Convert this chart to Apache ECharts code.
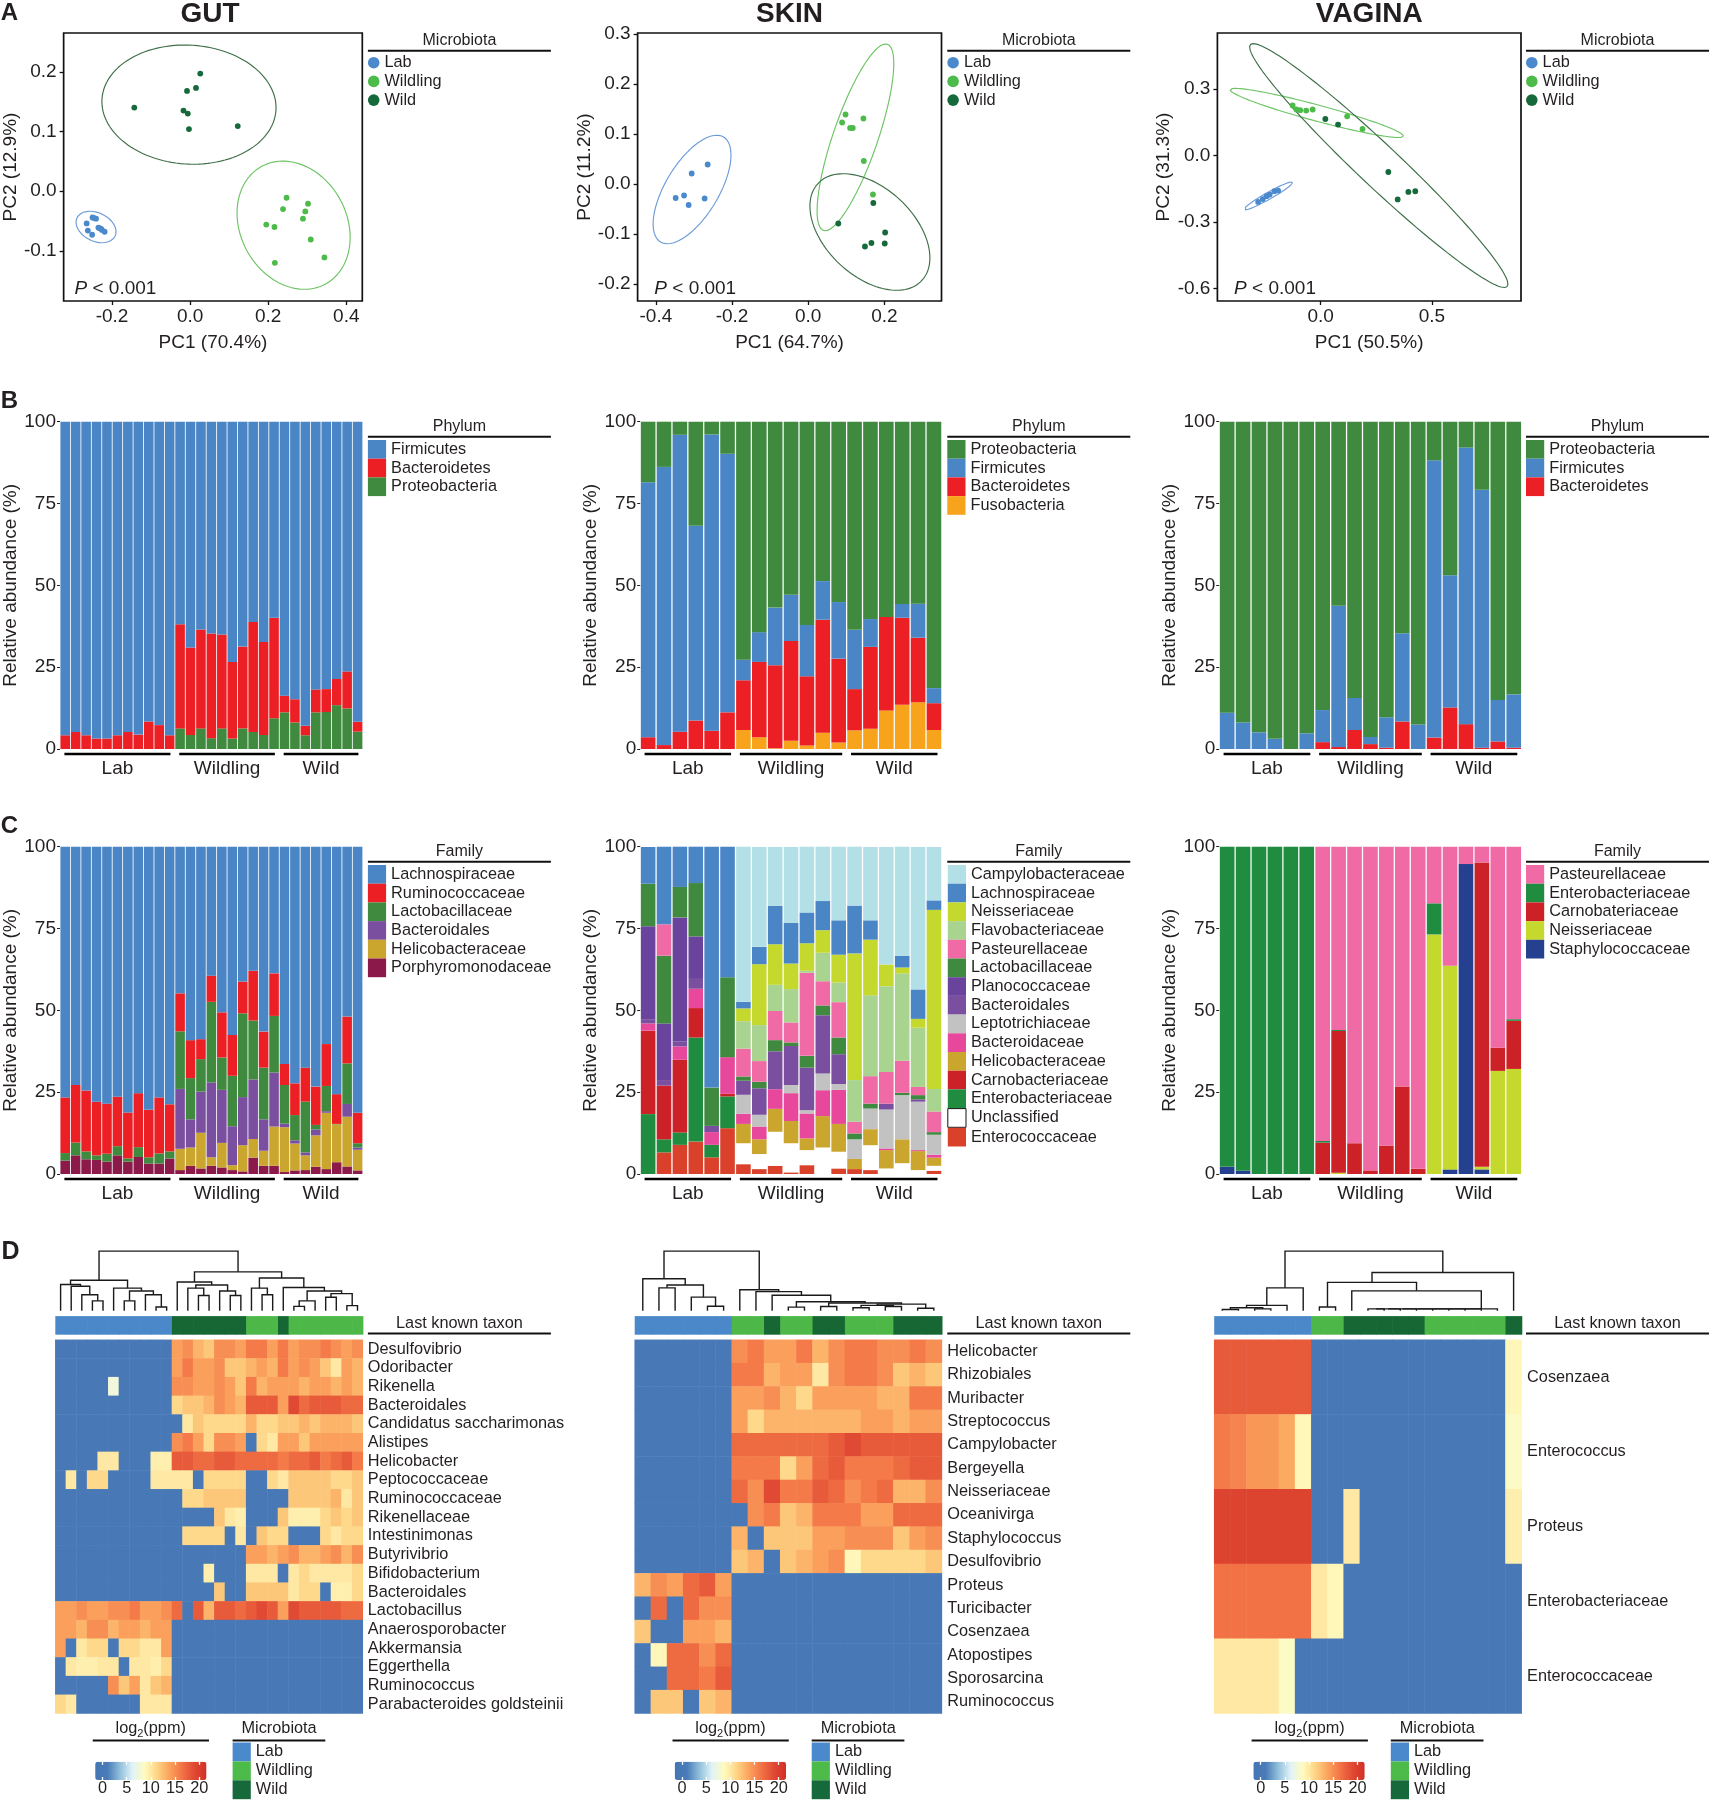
<!DOCTYPE html>
<html><head><meta charset="utf-8">
<script src="https://cdn.jsdelivr.net/npm/echarts@6.0.0/dist/echarts.min.js"></script>
<style>html,body{margin:0;padding:0;background:#fff;}#chart{width:1710px;height:1800px;}</style>
</head><body><div id="chart"></div>
<script>
const FONT = '"Liberation Sans", Arial, Helvetica, sans-serif';
const INK = '#231f20';

// ---------- shared groups ----------
const microbiota = ['Lab', 'Wildling', 'Wild'];
const microColors = ['#4a89cc', '#4dbb4a', '#16693a'];
const ellipseColors = ['#6c9bd8', '#6dc464', '#3e6f48'];
const annotColors = ['#4a88c9', '#4db848', '#166734'];

// ---------- A: PCA ----------
const gutLabPC = [[-0.265,-0.054],[-0.250,-0.044],[-0.241,-0.046],[-0.246,-0.045],[-0.262,-0.066],[-0.251,-0.073],[-0.232,-0.062],[-0.226,-0.065],[-0.219,-0.068],[-0.228,-0.063],[-0.235,-0.061]];
const gutWildlingPC = [[0.247,-0.011],[0.302,-0.021],[0.238,-0.030],[0.295,-0.034],[0.289,-0.046],[0.195,-0.056],[0.216,-0.060],[0.309,-0.081],[0.344,-0.111],[0.217,-0.120]];
const gutWildPC = [[-0.143,0.140],[-0.008,0.168],[0.015,0.173],[0.026,0.197],[-0.017,0.135],[-0.006,0.130],[-0.003,0.104],[0.122,0.109]];
// ellipse: [cx, cy, ux, uy, vx, vy] (Lab, Wildling, Wild)
const gutEllipses = [[-0.241,-0.060,0.0475,-0.0168,-0.0192,-0.0203],[0.265,-0.057,0.144,-0.009,-0.0155,0.107],[-0.003,0.145,0.2228,-0.0095,0.010,0.0994]];
const gutPCxTicks = [-0.2, 0, 0.2, 0.4];
const gutPCyTicks = [-0.1, 0, 0.1, 0.2];

const skinLabPC = [[-0.348,-0.028],[-0.326,-0.023],[-0.314,-0.042],[-0.306,0.021],[-0.272,-0.029],[-0.264,0.039]];
const skinWildlingPC = [[0.098,0.139],[0.089,0.123],[0.110,0.112],[0.117,0.112],[0.145,0.131],[0.146,0.046],[0.170,-0.021]];
const skinWildPC = [[0.171,-0.038],[0.079,-0.079],[0.202,-0.097],[0.166,-0.118],[0.149,-0.125],[0.201,-0.119]];
const skinEllipses = [[-0.305,-0.011,0.0805,0.106,0.063,-0.0235],[0.124,0.0933,0.0834,0.1864,0.0564,-0.0123],[0.162,-0.096,0.154,-0.0287,-0.033,0.113]];
const skinPCxTicks = [-0.4, -0.2, 0, 0.2];
const skinPCyTicks = [-0.2, -0.1, 0, 0.1, 0.2, 0.3];

const vagLabPC = [[-0.281,-0.209],[-0.260,-0.196],[-0.243,-0.183],[-0.229,-0.176],[-0.208,-0.161],[-0.191,-0.158]];
const vagWildlingPC = [[-0.126,0.226],[-0.109,0.208],[-0.092,0.205],[-0.065,0.203],[-0.036,0.208],[0.119,0.177],[0.188,0.120]];
const vagWildPC = [[0.021,0.165],[0.078,0.140],[0.304,-0.074],[0.346,-0.198],[0.394,-0.164],[0.425,-0.161]];
const vagEllipses = [[-0.235,-0.182,0.1087,0.0617,0.0087,-0.0128],[-0.018,0.1925,0.3897,-0.1053,-0.011,-0.0346],[0.261,-0.045,0.576,-0.5466,-0.0704,-0.0629]];
const vagPCxTicks = [0, 0.5];
const vagPCyTicks = [-0.6, -0.3, 0, 0.3];

// ---------- B: phylum (%) ----------
const gutProteobacteria = [0,0,0,0,0,0,0,0,0,0,0, 6.3,4.3,6.3,3.3,6.3,3.2,6.3,5.2,4.3,9.4, 11.2,8.1,4.2,11.2,11.3,13.4,12.4,5.3];
const gutBacteroidetes = [4.2,5.2,4.2,3.2,3.2,4.2,5.2,4.4,8.4,7.3,4.2, 31.8,26.7,30.2,32.0,28.7,23.4,25.0,33.6,28.4,30.7, 5.1,7.1,2.9,7.0,7.0,8.0,11.3,3.0];
const gutFirmicutes = [95.8,94.8,95.8,96.8,96.8,95.8,94.8,95.6,91.6,92.7,95.8, 61.9,69.0,63.5,64.7,65.0,73.4,68.7,61.2,67.3,59.9, 83.7,84.8,92.9,81.8,81.7,78.6,76.3,91.7];

const skinFusobacteria = [0,0,0,0,0,0, 5.8,3.6,0.2,2.5,1.1,5.0,2.0, 5.7,6.2,11.8,13.5,14.3,5.8];
const skinBacteroidetes = [3.6,1.2,5.3,8.7,5.6,11.2, 15.2,23.0,25.4,30.5,21.1,34.5,25.6, 12.6,25.0,28.5,26.6,19.7,8.2];
const skinFirmicutes = [77.9,85.0,90.7,59.5,90.5,79.0, 6.3,9.1,17.6,14.1,15.7,11.8,17.3, 18.1,8.5,0,4.2,10.4,4.6];
const skinProteobacteria = [18.5,13.8,4.0,31.8,3.9,9.8, 72.7,64.3,56.8,52.9,62.1,48.7,55.1, 63.6,60.3,59.7,55.7,55.6,81.4];

const vagBacteroidetes = [0,0,0,0,0,0, 2.1,0.6,5.8,1.5,0.4,8.4,0, 3.5,12.7,7.6,0.4,2.3,0.4];
const vagFirmicutes = [11.1,8.1,5.1,3.1,0,4.8, 9.8,43.2,9.8,2.2,9.3,27.0,7.5, 84.7,40.4,84.5,78.8,12.7,16.3];
const vagProteobacteria = [88.9,91.9,94.9,96.9,100,95.2, 88.1,56.2,84.4,96.3,90.3,64.6,92.5, 11.8,46.9,7.9,20.8,85.0,83.3];

// ---------- C: family (%) ----------
const gutPorphyromonodaceae = [4.1,5.7,4.5,4.3,3.8,5.7,3.8,5.2,3.2,3.2,4.7, 1.2,2.5,1.7,2.5,2.0,1.2,0.8,5.0,2.5,2.5, 0.6,1.1,1.2,2.2,1.5,3.6,2.3,1.1];
const gutHelicobacteraceae = [0,0,0,0,0,0,0,0,0,0,0, 6.5,5.6,10.9,2.6,7.5,1.5,8.0,5.7,4.6,12.0, 13.7,8.2,4.5,9.6,17.2,11.6,15.2,6.3];
const gutBacteroidales = [0,0,0,0,0,0,0,0,0,0,0, 18.3,8.6,12.6,22.9,16.2,11.9,14.7,18.2,9.6,16.5, 1.1,1.0,0.9,1.8,0.5,0,3.9,0.7];
const gutLactobacillaceae = [2.3,3.9,2.4,1.4,2.4,2.8,1.0,3.0,1.9,3.1,2.2, 17.6,12.6,9.9,24.6,9.9,15.4,25.6,18.0,15.8,17.3, 11.8,7.7,15.5,1.4,7.7,0.1,12.4,1.3];
const gutRuminococcaceae = [17.0,17.6,18.6,16.4,15.3,15.1,14.0,16.5,14.5,17.1,14.4, 11.6,11.6,6.1,8.0,13.8,12.5,9.7,15.2,11.0,13.0, 6.4,9.7,10.4,11.7,12.8,9.1,14.3,9.3];
const gutLachnospiraceae = [76.6,72.8,74.5,77.9,78.5,76.4,81.2,75.3,80.4,76.6,78.7, 44.8,59.1,58.8,39.4,50.6,57.5,41.2,37.9,56.5,38.7, 66.4,72.3,67.5,73.3,60.3,75.6,51.9,81.3];

const skinEnterococcaceae = [0,6.6,8.9,9.9,5.1,14.0, 3.0,1.5,2.5,0.5,2.7,0,1.7, 1.5,1.2,0,0,0,1.0];
const skinUnclassified = [0,0,0,0,0,0, 6.4,4.6,10.4,8.9,4.6,8.1,5.1, 0,7.6,1.7,3.3,1.2,1.5];
const skinEnterobacteriaceae = [18.3,4.0,3.8,31.8,3.8,9.7, 0,0,0,0,0,0,0, 0,0,0,0,0,0];
const skinCarnobacteriaceae = [25.5,16.4,22.2,9.0,0,0.8, 0,0,0,0,0,0,0, 0,0,0,0,0,0];
const skinHelicobacteraceae = [0,0,0,0,0,0, 5.9,4.5,7.0,6.8,3.6,9.6,8.5, 3.1,4.9,5.6,7.3,5.8,2.5];
const skinBacteroidaceae = [2.2,0,4.1,5.9,3.9,11.2, 3.1,3.9,6.0,8.5,7.6,7.9,10.4, 0,0,0.5,0,0.3,0.9];
const skinLeptotrichiaceae = [0,0,0,0,0,0, 5.8,3.6,0,2.5,1.0,5.1,1.8, 6.0,6.3,11.9,13.5,14.8,6.1];
const skinBacteroidales = [1.3,1.7,1.5,3.0,1.9,0, 4.3,8.1,11.6,11.9,13.0,17.8,9.1, 0,0,1.8,0,0.7,0];
const skinPlanococcaceae = [28.4,17.3,37.9,13.0,0,0, 0,0,0,0,0,0,0, 0,0,0,0,0,0];
const skinLactobacillaceae = [13.0,20.7,9.3,16.3,11.7,24.4, 1.3,2.0,3.4,1.1,3.6,3.0,5.1, 1.8,1.5,0,0.7,1.3,0.8];
const skinPasteurellaceae = [0,9.6,0,0,0,0, 8.5,6.3,8.9,6.1,25.4,7.4,10.8, 3.6,8.4,9.7,9.8,2.5,6.3];
const skinFlavobacteriaceae = [0,0,0,0,0,0, 8.4,11.0,8.0,10.2,0.6,8.7,6.0, 12.7,24.7,26.2,26.7,18.1,6.9];
const skinNeisseriaceae = [0,0,0,0,0,0, 3.9,18.6,12.4,7.8,8.4,6.9,8.5, 38.7,17.0,6.6,1.8,2.7,54.7];
const skinLachnospiraceae = [11.2,23.7,12.4,11.2,73.6,39.9, 2.0,5.3,11.7,12.4,9.4,8.9,10.5, 14.6,5.9,0,3.6,9.0,2.9];
const skinCampylobacteraceae = [0,0,0,0,0,0, 47.6,30.5,18.0,23.2,20.2,16.6,22.6, 18.0,22.4,35.9,33.3,43.5,16.3];

const vagStaphylococcaceae = [2.2,1.0,0,0,0,0, 0,0,0,0,0,0,0, 0,1.4,94.7,1.4,0,0];
const vagNeisseriaceae = [0,0,0,0,0,0, 0,0.4,0,0,0,0,0, 73.2,62.2,0,0.8,31.5,32.1];
const vagCarnobateriaceae = [0,0,0,0,0,0, 9.6,43.3,9.4,1.1,8.7,26.7,1.6, 0,0,0,93.0,7.1,14.7];
const vagEnterobacteriaceae = [97.8,99.0,100,100,100,100, 0.5,0.3,0,0,0,0,0, 9.5,0,0,0,0,0.5];
const vagPasteurellaceae = [0,0,0,0,0,0, 89.9,56.0,90.6,98.9,91.3,73.3,98.4, 17.3,36.4,5.3,4.8,61.4,52.7];

// group spans (first, last sample index) in B and C
const gutGroupSpans = [[0,10],[11,20],[21,28]];
const skinGroupSpans = [[0,5],[6,12],[13,18]];
const vagGroupSpans = [[0,5],[6,12],[13,18]];
const abundanceTicks = [0, 25, 50, 75, 100];

// ---------- D: heatmaps log2(ppm) ----------
const colorbarTicks = [0, 5, 10, 15, 20];
const HEAT_COLORS = ['#4575b4','#4a7cb8','#91bfdb','#e0f3f8','#fffbc0','#fed585','#fba35d','#f37446','#e04a33','#d32f27'];

const gutTaxa = ['Desulfovibrio','Odoribacter','Rikenella','Bacteroidales','Candidatus saccharimonas','Alistipes','Helicobacter','Peptococcaceae','Ruminococcaceae','Rikenellaceae','Intestinimonas','Butyrivibrio','Bifidobacterium','Bacteroidales','Lactobacillus','Anaerosporobacter','Akkermansia','Eggerthella','Ruminococcus','Parabacteroides goldsteinii'];
const gutAnnot = ['Lab','Lab','Lab','Lab','Lab','Lab','Lab','Lab','Lab','Lab','Lab','Wild','Wild','Wild','Wild','Wild','Wild','Wild','Wildling','Wildling','Wildling','Wild','Wildling','Wildling','Wildling','Wildling','Wildling','Wildling','Wildling'];
const gutHeat = [
 [0,0,0,0,0,0,0,0,0,0,0,14,15,13,12,15,15,14,16,16,14,16,14,15,15,16,15,14,15],
 [0,0,0,0,0,0,0,0,0,0,0,14,16,14,14,15,12,12,13,14,13,16,14,15,14,12,10,14,13],
 [0,0,0,0,0,7.5,0,0,0,0,0,15,15,14,14,15,14,12,16,13,14,14,14,13,14,14,13,14,13],
 [0,0,0,0,0,0,0,0,0,0,0,11,12,12,13,15,14,13,18,18,18,14,19,17,18,18,18,17,17],
 [0,0,0,0,0,0,0,0,0,0,0,0,10,12,11,11,11,11,13,11,11,12,12,13,12,13,13,13,12],
 [0,0,0,0,0,0,0,0,0,0,0,15,16,14,11,15,15,14,0,11,10,14,14,12,14,14,14,14,14],
 [0,0,0,0,10,10,0,0,0,9.5,9.5,18,18,17,17,18,18,17,17,17,17,16,17,17,18,16,17,18,16],
 [0,10,0,11,11,0,0,0,0,10,10,10,10,0,11,11,11,11,0,0,11,10,12,12,12,12,11,11,12],
 [0,0,0,0,0,0,0,0,0,0,0,0,11,11,12,12,12,12,0,0,0,0,12,12,12,12,13,10,12],
 [0,0,0,0,0,0,0,0,0,0,0,0,0,0,0,12,10,9.5,0,0,0,12,9.5,9.5,9.5,11,12,11,12],
 [0,0,0,0,0,0,0,0,0,0,0,0,11,11,11,11,0,10,0,12,11,11,0,0,0,11,10,11,11],
 [0,0,0,0,0,0,0,0,0,0,0,0,0,0,0,0,0,0,14,14,13,14,15,13,13,14,15,13,15],
 [0,0,0,0,0,0,0,0,0,0,0,0,0,0,9.5,0,0,0,10,10,10,0,10,11,10,10,10,10,11],
 [0,0,0,0,0,0,0,0,0,0,0,0,0,0,0,12,0,0,12,12,12,12,10,11,11,0,9.5,9.5,11],
 [14,14,15,14,14,15,15,16,14,14,15,17,0,18,13,18,18,17,18,19,18,14,19,18,18,18,18,17,17],
 [14,14,13,15,15,13,14,14,13,14,14,0,0,0,0,0,0,0,0,0,0,0,0,0,0,0,0,0,0],
 [14,0,10,11,11,0,11,11,10,10,14,0,0,0,0,0,0,0,0,0,0,0,0,0,0,0,0,0,0],
 [0,10,9.5,9.5,10,10,0,10,10,9.5,11,0,0,0,0,0,0,0,0,0,0,0,0,0,0,0,0,0,0],
 [0,0,0,0,0,15,12,14,10,12,13,0,0,0,0,0,0,0,0,0,0,0,0,0,0,0,0,0,0],
 [11,10,0,0,0,0,0,0,10,10,10,0,0,0,0,0,0,0,0,0,0,0,0,0,0,0,0,0,0]
];
// dendrogram merges: [nodeA, nodeB, height]; leaves 0..n-1, merge k creates node n+k
const gutMerges = [[3,4,0.165],[2,29,0.268],[1,30,0.409],[0,31,0.44],[9,10,0.061],[8,33,0.268],[6,7,0.165],[35,34,0.33],[5,36,0.378],[32,37,0.512],[13,14,0.256],[12,39,0.378],[16,17,0.256],[15,41,0.33],[40,42,0.43],[11,43,0.482],[19,20,0.268],[18,45,0.378],[22,23,0.073],[47,24,0.165],[25,26,0.226],[27,28,0.085],[49,50,0.287],[48,51,0.33],[21,52,0.39],[46,53,0.549],[44,54,0.652],[38,55,1.0]];

const skinTaxa = ['Helicobacter','Rhizobiales','Muribacter','Streptococcus','Campylobacter','Bergeyella','Neisseriaceae','Oceanivirga','Staphylococcus','Desulfovibrio','Proteus','Turicibacter','Cosenzaea','Atopostipes','Sporosarcina','Ruminococcus'];
const skinAnnot = ['Lab','Lab','Lab','Lab','Lab','Lab','Wildling','Wildling','Wild','Wildling','Wildling','Wild','Wild','Wildling','Wildling','Wildling','Wild','Wild','Wild'];
const skinHeat = [
 [0,0,0,0,0,0,15,16,14,14,16,13,15,16,16,15,15,16,15],
 [0,0,0,0,0,0,16,16,13,14,14,10,15,16,16,15,12,13,12],
 [0,0,0,0,0,0,14,14,15,13,11,14,14,14,14,13,13,16,16],
 [0,0,0,0,0,0,14,11,13,13,13,13,13,13,14,14,13,14,14],
 [0,0,0,0,0,0,17,17,17,17,17,17,18,19,18,18,18,18,18],
 [0,0,0,0,0,0,16,16,16,11,14,17,18,16,16,16,17,18,18],
 [0,0,0,0,0,0,17,15,19,16,16,18,17,15,16,17,13,13,15],
 [0,0,0,0,0,0,0,15,16,12,13,16,16,16,14,14,17,17,17],
 [0,0,0,0,0,0,13,0,12,12,12,14,14,15,15,15,12,14,15],
 [0,0,0,0,0,0,12,13,0,12,13,14,15,9,11,11,11,11,12],
 [13,15,14,17,18,14,0,0,0,0,0,0,0,0,0,0,0,0,0],
 [0,17,0,17,15,15,0,0,0,0,0,0,0,0,0,0,0,0,0],
 [12,0,0,14,14,13,0,0,0,0,0,0,0,0,0,0,0,0,0],
 [0,9,17,17,15,17,0,0,0,0,0,0,0,0,0,0,0,0,0],
 [0,0,17,17,16,18,0,0,0,0,0,0,0,0,0,0,0,0,0],
 [0,12,12,0,12,13,0,0,0,0,0,0,0,0,0,0,0,0,0]
];
const skinMerges = [[1,2,0.383],[4,5,0.074],[3,20,0.228],[19,21,0.432],[0,22,0.537],[9,10,0.06],[11,12,0.07],[13,14,0.05],[15,16,0.07],[17,18,0.04],[26,27,0.09],[29,28,0.11],[25,30,0.13],[24,31,0.15],[8,32,0.26],[7,33,0.32],[6,34,0.352],[23,35,1.0]];

const vagTaxa = ['Cosenzaea','Enterococcus','Proteus','Enterobacteriaceae','Enterococcaceae'];
const vagAnnot = ['Lab','Lab','Lab','Lab','Lab','Lab','Wildling','Wildling','Wild','Wild','Wild','Wild','Wild','Wildling','Wildling','Wildling','Wildling','Wildling','Wild'];
const vagHeat = [
 [18,18,18,18,18,18,0,0,0,0,0,0,0,0,0,0,0,0,9],
 [16,15.5,14.5,14.5,13.5,9,0,0,0,0,0,0,0,0,0,0,0,0,8.5],
 [19.5,19.5,19.5,19.5,19.5,19.5,0,0,10,0,0,0,0,0,0,0,0,0,9.5],
 [16.5,16.5,16.5,16.5,16.5,16.5,10,9,0,0,0,0,0,0,0,0,0,0,0],
 [10,10,10,10,8.5,0,0,0,0,0,0,0,0,0,0,0,0,0,0]
];
const vagMerges = [[0,1,0.02],[2,3,0.03],[19,20,0.05],[21,4,0.09],[22,5,0.383],[9,10,0.03],[24,11,0.03],[25,12,0.03],[26,13,0.03],[27,14,0.03],[28,15,0.03],[29,16,0.03],[30,17,0.03],[8,31,0.333],[6,7,0.062],[33,32,0.475],[34,18,0.642],[23,35,1.0]];

// ================= build =================
const option = {animation:false, textStyle:{fontFamily:FONT}, grid:[], xAxis:[], yAxis:[], series:[], legend:[], visualMap:[], graphic:{elements:[]}};
const G = option.graphic.elements;
function txt(x, y, text, size, extra) {
  G.push({type:'text', x:x, y:y, silent:true, style:Object.assign({text:text, fontSize:size, fontFamily:FONT, fill:INK, textAlign:'center', textVerticalAlign:'middle', align:'center', verticalAlign:'middle'}, extra||{})});
}
function hline(x1, x2, y, w) { G.push({type:'line', silent:true, shape:{x1:x1, y1:y, x2:x2, y2:y}, style:{stroke:'#111', lineWidth:w||2}}); }
function addGrid(rect, xa, ya) {
  const gi = option.grid.length;
  option.grid.push(Object.assign({containLabel:false, show:false}, rect));
  const xi = option.xAxis.length; option.xAxis.push(Object.assign({gridIndex:gi}, xa));
  const yi = option.yAxis.length; option.yAxis.push(Object.assign({gridIndex:gi}, ya));
  return {gi:gi, xi:xi, yi:yi};
}
function ellipsePoints(e) {
  const pts = [];
  for (let k = 0; k <= 120; k++) { const t = 2*Math.PI*k/120; pts.push([e[0]+e[2]*Math.cos(t)+e[4]*Math.sin(t), e[1]+e[3]*Math.cos(t)+e[5]*Math.sin(t)]); }
  return pts;
}
function dendroSegments(n, merges) {
  const x = [], h = [];
  for (let i = 0; i < n; i++) { x[i] = i; h[i] = 0; }
  return merges.map((m, k) => { const id = n + k; x[id] = (x[m[0]] + x[m[1]]) / 2; h[id] = m[2]; return [x[m[0]], h[m[0]], x[m[1]], h[m[1]], m[2]]; });
}
const tickLab = {fontSize:19, color:INK, fontFamily:FONT};

// ---- panel letters ----
txt(9.5, 13.3, 'A', 24, {fontWeight:'bold'});
txt(9.5, 401.7, 'B', 24, {fontWeight:'bold'});
txt(9.5, 826.7, 'C', 24, {fontWeight:'bold'});
txt(10.5, 1251.8, 'D', 25, {fontWeight:'bold'});

// ---- A ----
function pcaPanel(c) {
  const g = addGrid({left:c.left, top:33, width:c.width, height:268, show:true, borderColor:'#111', borderWidth:1.7, backgroundColor:'rgba(0,0,0,0)'},
    {type:'value', min:c.xRange[0], max:c.xRange[1], name:c.xName, nameLocation:'middle', nameGap:32.5, nameTextStyle:{fontSize:19, color:INK, fontFamily:FONT},
     axisLine:{show:false, onZero:false}, splitLine:{show:false}, axisTick:{show:true, length:4, customValues:c.xTicks, lineStyle:{color:'#111', width:1.3}},
     axisLabel:Object.assign({customValues:c.xTicks, formatter:v => v.toFixed(1), margin:6}, tickLab)},
    {type:'value', min:c.yRange[0], max:c.yRange[1], name:c.yName, nameLocation:'middle', nameGap:38, nameTextStyle:{fontSize:19, color:INK, fontFamily:FONT},
     axisLine:{show:false, onZero:false}, splitLine:{show:false}, axisTick:{show:true, length:4, customValues:c.yTicks, lineStyle:{color:'#111', width:1.3}},
     axisLabel:Object.assign({customValues:c.yTicks, formatter:v => v.toFixed(1), margin:7}, tickLab)});
  microbiota.forEach((grp, i) => {
    option.series.push({type:'line', name:grp + ' ellipse', xAxisIndex:g.xi, yAxisIndex:g.yi, data:ellipsePoints(c.ellipses[i]), symbol:'none', showSymbol:false, silent:true, z:2, lineStyle:{color:ellipseColors[i], width:1.15}});
  });
  microbiota.forEach((grp, i) => {
    option.series.push({type:'scatter', name:grp, xAxisIndex:g.xi, yAxisIndex:g.yi, data:c.points[i], symbolSize:5.8, silent:true, z:3, itemStyle:{color:microColors[i], opacity:1}});
  });
  txt(c.left + c.width/2, 14, c.title, 28, {fontWeight:'bold'});
  G.push({type:'text', x:c.left + 16.7, y:288.3, silent:true, style:{text:'{i|P} < 0.001', fontSize:19, fontFamily:FONT, fill:INK, textAlign:'left', align:'left', textVerticalAlign:'middle', verticalAlign:'middle', rich:{i:{fontStyle:'italic', fontSize:19, fontFamily:FONT, fill:INK}}}});
  txt(c.legLeft + 91.5, 40.7, 'Microbiota', 16);
  hline(c.legLeft, c.legLeft + 183, 50.7, 2);
  option.legend.push({orient:'vertical', left:c.legLeft, top:53.35, icon:'circle', itemWidth:11.6, itemHeight:11.6, itemGap:0, padding:0, selectedMode:false, data:microbiota,
    itemStyle:{opacity:1}, textStyle:{fontSize:16.3, color:INK, fontFamily:FONT, lineHeight:18.7}});
}
pcaPanel({left:57.8, width:304.5, title:'GUT', xRange:[-0.324,0.441], yRange:[-0.184,0.265], xTicks:gutPCxTicks, yTicks:gutPCyTicks, xName:'PC1 (70.4%)', yName:'PC2 (12.9%)', points:[gutLabPC, gutWildlingPC, gutWildPC], ellipses:gutEllipses, legLeft:367.9});
pcaPanel({left:637.6, width:303.9, title:'SKIN', xRange:[-0.448,0.35], yRange:[-0.234,0.302], xTicks:skinPCxTicks, yTicks:skinPCyTicks, xName:'PC1 (64.7%)', yName:'PC2 (11.2%)', points:[skinLabPC, skinWildlingPC, skinWildPC], ellipses:skinEllipses, legLeft:947.3});
pcaPanel({left:1217.4, width:303.6, title:'VAGINA', xRange:[-0.464,0.9], yRange:[-0.656,0.553], xTicks:vagPCxTicks, yTicks:vagPCyTicks, xName:'PC1 (50.5%)', yName:'PC2 (31.3%)', points:[vagLabPC, vagWildlingPC, vagWildPC], ellipses:vagEllipses, legLeft:1526});

// ---- B & C stacked bars ----
function barPanel(c) {
  const n = c.stack[0].data.length;
  const samples = Array.from({length:n}, (_, i) => 'S' + (i + 1));
  const g = addGrid({left:c.left, top:c.top, width:c.width, height:327.3},
    {type:'category', data:samples, axisLine:{show:false}, axisTick:{show:false}, axisLabel:{show:false}, splitLine:{show:false}},
    {type:'value', min:0, max:100, interval:25, name:'Relative abundance (%)', nameLocation:'middle', nameGap:40, nameTextStyle:{fontSize:19, color:INK, fontFamily:FONT},
     axisLine:{show:false}, splitLine:{show:false}, axisTick:{show:true, length:3, lineStyle:{color:'#222', width:1}},
     axisLabel:Object.assign({margin:4, customValues:abundanceTicks}, tickLab)});
  c.stack.forEach(s => option.series.push({type:'bar', name:s.name, stack:c.id, xAxisIndex:g.xi, yAxisIndex:g.yi, data:s.data, barCategoryGap:'8%', silent:true, itemStyle:{color:s.color}}));
  option.series.push({type:'custom', xAxisIndex:g.xi, yAxisIndex:g.yi, silent:true, clip:false, data:c.spans, z:5,
    renderItem:(p, api) => {
      const a = api.coord([api.value(0), 0]), b = api.coord([api.value(1), 0]), bw = api.size([1, 0])[0];
      const x1 = a[0] - bw/2 + 4.4, x2 = b[0] + bw/2 - 4.4, y = a[1] + 5;
      return {type:'group', children:[
        {type:'line', shape:{x1:x1, y1:y, x2:x2, y2:y}, style:{stroke:'#000', lineWidth:2.4}},
        {type:'text', style:{text:microbiota[p.dataIndex], x:(x1+x2)/2, y:y + 14.5, align:'center', verticalAlign:'middle', fontSize:19, fontFamily:FONT, fill:INK}}]};
    }});
  txt(c.legLeft + 91.5, c.top + 5, c.legTitle, 16);
  hline(c.legLeft, c.legLeft + 183, c.top + 15, 2);
  option.legend.push({orient:'vertical', left:c.legLeft, top:c.top + 18.3, icon:'rect', itemWidth:18.2, itemHeight:18.7, itemGap:0, padding:0, selectedMode:false,
    data:c.legend, itemStyle:{borderWidth:0}, textStyle:{fontSize:16.3, color:INK, fontFamily:FONT, lineHeight:18.7}});
}
const PHY = {Firmicutes:'#4a86c6', Bacteroidetes:'#ec2024', Proteobacteria:'#3f8a3f', Fusobacteria:'#f8a31c'};
const barX = {gut:[60.0, 302.8], skin:[640.2, 301.7], vag:[1219.2, 302.5]};
const legX = {gut:367.9, skin:947.3, vag:1526};
barPanel({id:'gutB', left:barX.gut[0], width:barX.gut[1], top:421.7, spans:gutGroupSpans, legLeft:legX.gut, legTitle:'Phylum',
  stack:[{name:'Proteobacteria', data:gutProteobacteria, color:PHY.Proteobacteria},{name:'Bacteroidetes', data:gutBacteroidetes, color:PHY.Bacteroidetes},{name:'Firmicutes', data:gutFirmicutes, color:PHY.Firmicutes}],
  legend:['Firmicutes','Bacteroidetes','Proteobacteria']});
barPanel({id:'skinB', left:barX.skin[0], width:barX.skin[1], top:421.7, spans:skinGroupSpans, legLeft:legX.skin, legTitle:'Phylum',
  stack:[{name:'Fusobacteria', data:skinFusobacteria, color:PHY.Fusobacteria},{name:'Bacteroidetes', data:skinBacteroidetes, color:PHY.Bacteroidetes},{name:'Firmicutes', data:skinFirmicutes, color:PHY.Firmicutes},{name:'Proteobacteria', data:skinProteobacteria, color:PHY.Proteobacteria}],
  legend:['Proteobacteria','Firmicutes','Bacteroidetes','Fusobacteria']});
barPanel({id:'vagB', left:barX.vag[0], width:barX.vag[1], top:421.7, spans:vagGroupSpans, legLeft:legX.vag, legTitle:'Phylum',
  stack:[{name:'Bacteroidetes', data:vagBacteroidetes, color:PHY.Bacteroidetes},{name:'Firmicutes', data:vagFirmicutes, color:PHY.Firmicutes},{name:'Proteobacteria', data:vagProteobacteria, color:PHY.Proteobacteria}],
  legend:['Proteobacteria','Firmicutes','Bacteroidetes']});

const FAM = {Lachnospiraceae:'#4a86c6', Ruminococcaceae:'#ec2024', Lactobacillaceae:'#3f8a3f', Bacteroidales:'#7b4f9f', Helicobacteraceae:'#cba62e', Porphyromonodaceae:'#8b1a4a',
  Campylobacteraceae:'#b3e0e6', Neisseriaceae:'#c5d82e', Flavobacteriaceae:'#a9d48f', Pasteurellaceae:'#f06ba6', Planococcaceae:'#6a449c', Leptotrichiaceae:'#c2c2c2',
  Bacteroidaceae:'#e8489b', Carnobacteriaceae:'#cd2128', Enterobacteriaceae:'#1f8c40', Unclassified:'#ffffff', Enterococcaceae:'#d9412b', Staphylococcaceae:'#24408e'};
barPanel({id:'gutC', left:barX.gut[0], width:barX.gut[1], top:846.7, spans:gutGroupSpans, legLeft:legX.gut, legTitle:'Family',
  stack:[{name:'Porphyromonodaceae', data:gutPorphyromonodaceae, color:FAM.Porphyromonodaceae},{name:'Helicobacteraceae', data:gutHelicobacteraceae, color:FAM.Helicobacteraceae},{name:'Bacteroidales', data:gutBacteroidales, color:FAM.Bacteroidales},{name:'Lactobacillaceae', data:gutLactobacillaceae, color:FAM.Lactobacillaceae},{name:'Ruminococcaceae', data:gutRuminococcaceae, color:FAM.Ruminococcaceae},{name:'Lachnospiraceae', data:gutLachnospiraceae, color:FAM.Lachnospiraceae}],
  legend:['Lachnospiraceae','Ruminococcaceae','Lactobacillaceae','Bacteroidales','Helicobacteraceae','Porphyromonodaceae']});
barPanel({id:'skinC', left:barX.skin[0], width:barX.skin[1], top:846.7, spans:skinGroupSpans, legLeft:legX.skin, legTitle:'Family',
  stack:[{name:'Enterococcaceae', data:skinEnterococcaceae, color:FAM.Enterococcaceae},{name:'Unclassified', data:skinUnclassified, color:FAM.Unclassified},{name:'Enterobacteriaceae', data:skinEnterobacteriaceae, color:FAM.Enterobacteriaceae},{name:'Carnobacteriaceae', data:skinCarnobacteriaceae, color:FAM.Carnobacteriaceae},{name:'Helicobacteraceae', data:skinHelicobacteraceae, color:FAM.Helicobacteraceae},{name:'Bacteroidaceae', data:skinBacteroidaceae, color:FAM.Bacteroidaceae},{name:'Leptotrichiaceae', data:skinLeptotrichiaceae, color:FAM.Leptotrichiaceae},{name:'Bacteroidales', data:skinBacteroidales, color:FAM.Bacteroidales},{name:'Planococcaceae', data:skinPlanococcaceae, color:FAM.Planococcaceae},{name:'Lactobacillaceae', data:skinLactobacillaceae, color:FAM.Lactobacillaceae},{name:'Pasteurellaceae', data:skinPasteurellaceae, color:FAM.Pasteurellaceae},{name:'Flavobacteriaceae', data:skinFlavobacteriaceae, color:FAM.Flavobacteriaceae},{name:'Neisseriaceae', data:skinNeisseriaceae, color:FAM.Neisseriaceae},{name:'Lachnospiraceae', data:skinLachnospiraceae, color:FAM.Lachnospiraceae},{name:'Campylobacteraceae', data:skinCampylobacteraceae, color:FAM.Campylobacteraceae}],
  legend:['Campylobacteraceae','Lachnospiraceae','Neisseriaceae','Flavobacteriaceae','Pasteurellaceae','Lactobacillaceae','Planococcaceae','Bacteroidales','Leptotrichiaceae','Bacteroidaceae','Helicobacteraceae','Carnobacteriaceae','Enterobacteriaceae',{name:'Unclassified', itemStyle:{borderColor:'#111', borderWidth:1}},'Enterococcaceae']});
barPanel({id:'vagC', left:barX.vag[0], width:barX.vag[1], top:846.7, spans:vagGroupSpans, legLeft:legX.vag, legTitle:'Family',
  stack:[{name:'Staphylococcaceae', data:vagStaphylococcaceae, color:FAM.Staphylococcaceae},{name:'Neisseriaceae', data:vagNeisseriaceae, color:FAM.Neisseriaceae},{name:'Carnobateriaceae', data:vagCarnobateriaceae, color:FAM.Carnobacteriaceae},{name:'Enterobacteriaceae', data:vagEnterobacteriaceae, color:FAM.Enterobacteriaceae},{name:'Pasteurellaceae', data:vagPasteurellaceae, color:FAM.Pasteurellaceae}],
  legend:['Pasteurellaceae','Enterobacteriaceae','Carnobateriaceae','Neisseriaceae','Staphylococcaceae']});

// ---- D heatmaps ----
const DENDRO_TOP = 1251.1, DENDRO_H = 59.6, ANNOT_TOP = 1316.1, ANNOT_H = 18.6, HEAT_TOP = 1339.8, HEAT_H = 373.7;
const CB_TOP = 1761.8, CB_H = 18.2, CB_W = 111.3, CB_MIN = -1.5, CB_MAX = 21.5;
function heatPanel(c) {
  const n = c.annot.length;
  const ids = Array.from({length:n}, (_, i) => 'S' + (i + 1));
  const d = addGrid({left:c.left, top:DENDRO_TOP, width:c.width, height:DENDRO_H},
    {type:'value', min:-0.5, max:n - 0.5, show:false, splitLine:{show:false}}, {type:'value', min:0, max:1, show:false, splitLine:{show:false}});
  option.series.push({type:'custom', xAxisIndex:d.xi, yAxisIndex:d.yi, silent:true, clip:false, data:dendroSegments(n, c.merges),
    renderItem:(p, api) => {
      const a = api.coord([api.value(0), api.value(1)]), b = api.coord([api.value(0), api.value(4)]), e = api.coord([api.value(2), api.value(4)]), f = api.coord([api.value(2), api.value(3)]);
      return {type:'polyline', shape:{points:[a, b, e, f]}, style:{stroke:'#1a1a1a', lineWidth:1.4, fill:null}};
    }});
  const a = addGrid({left:c.left, top:ANNOT_TOP, width:c.width, height:ANNOT_H},
    {type:'category', data:ids, show:false}, {type:'category', data:['group'], show:false});
  option.series.push({type:'custom', xAxisIndex:a.xi, yAxisIndex:a.yi, silent:true, data:c.annot.map((grp, i) => [i, 0, microbiota.indexOf(grp)]),
    renderItem:(p, api) => {
      const pt = api.coord([api.value(0), api.value(1)]), s = api.size([1, 1]);
      return {type:'rect', shape:{x:pt[0] - s[0]/2, y:pt[1] - s[1]/2, width:s[0] + 0.6, height:s[1]}, style:{fill:annotColors[api.value(2)]}};
    }});
  const h = addGrid({left:c.left, top:HEAT_TOP, width:c.width, height:HEAT_H},
    {type:'category', data:ids, show:false},
    {type:'category', data:c.taxa, inverse:true, position:'right', axisLine:{show:false}, axisTick:{show:false}, splitLine:{show:false},
     axisLabel:{interval:0, fontSize:16.3, color:INK, fontFamily:FONT, margin:c.labelMargin}});
  const cells = [];
  c.values.forEach((row, r) => row.forEach((v, col) => cells.push([col, r, v])));
  const si = option.series.length;
  option.series.push({type:'heatmap', xAxisIndex:h.xi, yAxisIndex:h.yi, data:cells, silent:true, itemStyle:{borderWidth:0}, emphasis:{disabled:true}});
  option.visualMap.push({type:'continuous', seriesIndex:si, dimension:2, min:CB_MIN, max:CB_MAX, inRange:{color:HEAT_COLORS}, orient:'horizontal', left:c.cbLeft, top:CB_TOP,
    itemWidth:CB_H, itemHeight:CB_W, calculable:false, padding:0, hoverLink:false, show:true});
  const cb = addGrid({left:c.cbLeft, top:CB_TOP, width:CB_W, height:CB_H},
    {type:'value', min:CB_MIN, max:CB_MAX, position:'bottom', z:10, axisLine:{show:false, onZero:false}, splitLine:{show:false},
     axisTick:{show:true, inside:true, length:3, customValues:colorbarTicks, lineStyle:{color:'#fff', width:1.3}},
     axisLabel:{customValues:colorbarTicks, fontSize:16.3, color:INK, fontFamily:FONT, margin:1}},
    {type:'value', min:0, max:1, show:false, splitLine:{show:false}});
  option.xAxis.push({gridIndex:cb.gi, type:'value', min:CB_MIN, max:CB_MAX, position:'top', z:10, axisLine:{show:false, onZero:false}, splitLine:{show:false}, axisLabel:{show:false},
    axisTick:{show:true, inside:true, length:3, customValues:colorbarTicks, lineStyle:{color:'#fff', width:1.3}}});
  // titles / legends
  txt(c.ltL + 91.5, 1323.8, 'Last known taxon', 16.3);
  hline(c.ltL, c.ltL + 183, 1333.6, 2);
  G.push({type:'text', x:c.logL + 58, y:1728.7, silent:true, style:{text:'{a|log}{s|2}{a|(ppm)}', fontFamily:FONT, fill:INK, textAlign:'center', align:'center', textVerticalAlign:'middle', verticalAlign:'middle',
    rich:{a:{fontSize:16.3, fontFamily:FONT, fill:INK}, s:{fontSize:11, fontFamily:FONT, fill:INK, padding:[10,0,0,0]}}}});
  hline(c.logL, c.logL + 116.3, 1740.4, 2);
  txt(c.legLeft + 46.5, 1728.7, 'Microbiota', 16.3);
  hline(c.legLeft, c.legLeft + 92.7, 1740.4, 2);
  option.legend.push({orient:'vertical', left:c.legLeft, top:1742.5, icon:'rect', itemWidth:18.2, itemHeight:18.9, itemGap:0, padding:0, selectedMode:false, data:microbiota,
    itemStyle:{opacity:1}, textStyle:{fontSize:16.3, color:INK, fontFamily:FONT, lineHeight:18.9}});
}
heatPanel({left:55.3, width:307.5, annot:gutAnnot, merges:gutMerges, taxa:gutTaxa, values:gutHeat, labelMargin:5, cbLeft:95.2, ltL:367.9, logL:92.7, legLeft:232.6});
heatPanel({left:634.7, width:307.2, annot:skinAnnot, merges:skinMerges, taxa:skinTaxa, values:skinHeat, labelMargin:5.4, cbLeft:674.7, ltL:947.3, logL:672.5, legLeft:811.7});
heatPanel({left:1214.2, width:307.5, annot:vagAnnot, merges:vagMerges, taxa:vagTaxa, values:vagHeat, labelMargin:5.4, cbLeft:1253.4, ltL:1526, logL:1251.6, legLeft:1390.8});

const chart = echarts.init(document.getElementById('chart'), null, {renderer:'canvas', width:1710, height:1800});
chart.setOption(option);
</script></body></html>
